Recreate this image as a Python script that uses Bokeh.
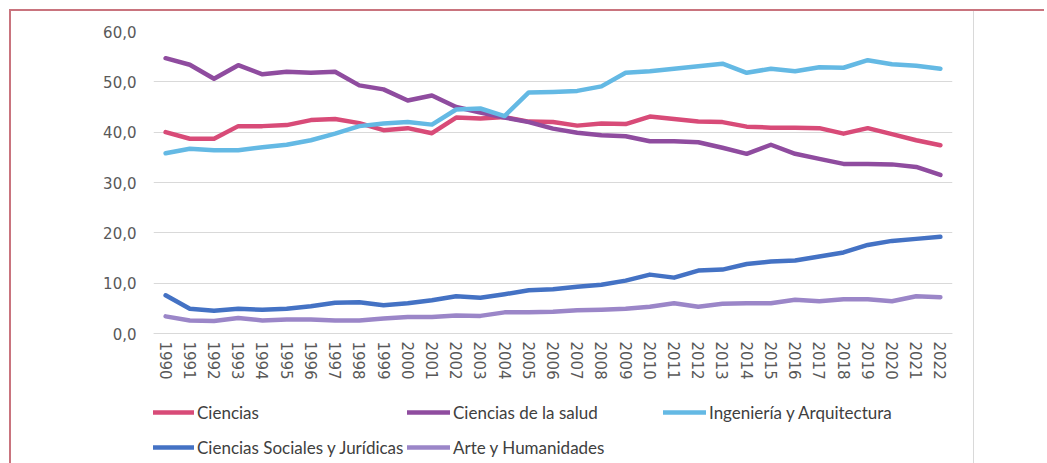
from bokeh.plotting import figure
from bokeh.models import FactorRange, Range1d, FixedTicker, Legend, LegendItem, Spacer
from bokeh.layouts import row
from bokeh.embed import file_html
from bokeh.resources import INLINE

years = [str(y) for y in range(1990, 2023)]

ciencias = [40.0, 38.7, 38.7, 41.2, 41.2, 41.4, 42.4, 42.6, 41.8, 40.4,
            40.8, 39.8, 42.9, 42.7, 43.0, 42.1, 42.0, 41.3, 41.7, 41.6,
            43.1, 42.6, 42.1, 42.0, 41.1, 40.9, 40.9, 40.8, 39.7, 40.8,
            39.6, 38.4, 37.4]
salud = [54.7, 53.4, 50.6, 53.3, 51.5, 52.0, 51.8, 52.0, 49.3, 48.5,
         46.3, 47.3, 45.0, 43.9, 42.9, 42.0, 40.7, 39.9, 39.4, 39.2,
         38.2, 38.2, 38.0, 36.9, 35.7, 37.5, 35.7, 34.7, 33.7, 33.7,
         33.6, 33.1, 31.5]
ingenieria = [35.8, 36.7, 36.4, 36.4, 37.0, 37.5, 38.4, 39.7, 41.2, 41.7,
              42.0, 41.5, 44.5, 44.7, 43.2, 47.9, 48.0, 48.2, 49.1, 51.8,
              52.1, 52.6, 53.1, 53.6, 51.8, 52.6, 52.1, 52.9, 52.8, 54.3,
              53.5, 53.2, 52.6]
sociales = [7.6, 4.9, 4.5, 4.9, 4.7, 4.9, 5.4, 6.1, 6.2, 5.6,
            6.0, 6.6, 7.4, 7.1, 7.8, 8.6, 8.8, 9.3, 9.7, 10.5,
            11.7, 11.1, 12.5, 12.7, 13.8, 14.3, 14.5, 15.3, 16.1, 17.6,
            18.4, 18.8, 19.2]
arte = [3.4, 2.6, 2.5, 3.1, 2.6, 2.8, 2.8, 2.6, 2.6, 3.0,
        3.3, 3.3, 3.6, 3.5, 4.2, 4.2, 4.3, 4.6, 4.7, 4.9,
        5.3, 6.0, 5.3, 5.9, 6.0, 6.0, 6.7, 6.4, 6.8, 6.8,
        6.4, 7.4, 7.2]

series_names = ["Ciencias", "Ciencias de la salud", "Ingeniería y Arquitectura",
                "Ciencias Sociales y Jurídicas", "Arte y Humanidades"]
series_values = [ciencias, salud, ingenieria, sociales, arte]
series_colors = ["#d84b78", "#8f4c9f", "#64b9e4", "#4472c4", "#9b86c8"]

y_ticks = [0, 10, 20, 30, 40, 50, 60]
y_tick_labels = ["0,0", "10,0", "20,0", "30,0", "40,0", "50,0", "60,0"]

# layout: plot height 452, top border 20, 60 units over 302 px -> extra room below 0 for labels+legend
PLOT_H = 452
TOP = 20
PX_PER_UNIT = 302 / 60.0
y_bottom = -(PLOT_H - TOP - 302) / PX_PER_UNIT

p = figure(width=963, height=PLOT_H, output_backend="svg", toolbar_location=None,
           x_range=FactorRange(*years), y_range=Range1d(y_bottom, 60),
           min_border_left=142, min_border_right=22, min_border_top=TOP,
           min_border_bottom=0)
p.outline_line_color = None
p.background_fill_color = "white"
p.border_fill_color = "white"

p.xgrid.grid_line_color = None
p.ygrid.grid_line_color = "#d9d9d9"
p.ygrid.grid_line_width = 1

p.yaxis.ticker = FixedTicker(ticks=y_ticks)
p.yaxis.major_label_overrides = {t: l for t, l in zip(y_ticks, y_tick_labels)}
p.yaxis.axis_line_color = None
p.yaxis.major_tick_line_color = None
p.yaxis.minor_tick_line_color = None
p.yaxis.major_tick_out = 0
p.yaxis.major_tick_in = 0
p.yaxis.major_label_standoff = 17
p.yaxis.major_label_text_font = "DejaVu Sans"
p.yaxis.major_label_text_font_size = "15px"
p.yaxis.major_label_text_color = "#595959"

p.xaxis.fixed_location = 0
p.xaxis.axis_line_color = "#d9d9d9"
p.xaxis.major_tick_line_color = None
p.xaxis.minor_tick_line_color = None
p.xaxis.major_tick_out = 0
p.xaxis.major_tick_in = 0
p.xaxis.major_label_standoff = 8
p.xaxis.major_label_orientation = "vertical"
p.xaxis.major_label_text_font = "DejaVu Sans"
p.xaxis.major_label_text_font_size = "15px"
p.xaxis.major_label_text_color = "#595959"

items = []
for name, vals, col in zip(series_names, series_values, series_colors):
    r = p.line(x=years, y=vals, line_color=col, line_width=4.5,
               line_cap="round", line_join="round")
    items.append(LegendItem(label=name, renderers=[r]))

legend = Legend(items=items, orientation="horizontal", ncols=3, location=(-2, 0),
                glyph_width=43, glyph_height=32, label_height=32,
                label_width=207, label_standoff=3, spacing=3, padding=0, margin=0,
                border_line_color=None, background_fill_alpha=0,
                label_text_font="Lato", label_text_font_size="17px",
                label_text_color="#404040")
p.add_layout(legend, "center")

p.styles = {"border-right": "1px solid #d9d9d9"}
wrap = row(p, Spacer(width=70, height=PLOT_H))
wrap.styles = {"border-top": "2px solid #c9747e", "border-left": "2px solid #c9747e",
               "margin-left": "9px", "margin-top": "9px"}

open("out.html", "w").write(file_html(wrap, INLINE))
